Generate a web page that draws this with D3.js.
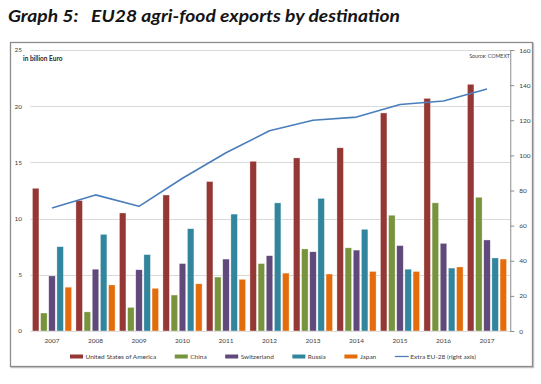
<!DOCTYPE html>
<html>
<head>
<meta charset="utf-8">
<script src="https://cdn.jsdelivr.net/npm/d3@7"></script>
<style>
  body { margin: 0; background: #fff; }
  text { font-family: Lato, "Open Sans", sans-serif; }
</style>
</head>
<body>
<div id="chart-area"></div>
<script>
// data
var years = ["2007", "2008", "2009", "2010", "2011", "2012", "2013", "2014", "2015", "2016", "2017"];
var seriesNames = ["United States of America", "China", "Switzerland", "Russia", "Japan"];
var usa         = [12.7, 11.6, 10.5, 12.1, 13.3, 15.1, 15.4, 16.3, 19.4, 20.7, 21.95];
var china       = [1.6, 1.7, 2.1, 3.2, 4.8, 6.0, 7.3, 7.4, 10.3, 11.4, 11.9];
var switzerland = [4.9, 5.5, 5.45, 6.0, 6.4, 6.7, 7.05, 7.2, 7.6, 7.8, 8.1];
var russia      = [7.5, 8.6, 6.8, 9.1, 10.4, 11.4, 11.8, 9.05, 5.5, 5.6, 6.5];
var japan       = [3.9, 4.1, 3.8, 4.2, 4.6, 5.15, 5.07, 5.3, 5.3, 5.7, 6.4];
var extraEU     = [70, 77.5, 71, 87, 101.5, 114, 120, 121.8, 129, 131, 137.8];
var leftTicks   = [0, 5, 10, 15, 20, 25];
var rightTicks  = [0, 20, 40, 60, 80, 100, 120, 140, 160];
var lineName    = "Extra EU-28 (right axis)";

var colors = ["#953735", "#77933c", "#604a7b", "#31859c", "#e46c0a"];
var lineColor = "#4a7ebb";

var seriesValues = [usa, china, switzerland, russia, japan];
var table = years.map(function(y, i) {
    return { year: y, values: seriesValues.map(function(s) { return s[i]; }), total: extraEU[i] };
});

var svgWidth = 541, svgHeight = 384;
var plot = { left: 30.25, right: 508.75, top: 50, bottom: 331 };

var svg = d3.select("#chart-area")
            .append("svg")
            .attr("width", svgWidth)
            .attr("height", svgHeight);

// title
svg.append("text")
   .attr("x", 8)
   .attr("y", 22)
   .attr("font-size", "17px")
   .attr("font-weight", "bold")
   .attr("font-style", "italic")
   .attr("fill", "#141414")
   .attr("textLength", 392)
   .attr("lengthAdjust", "spacingAndGlyphs")
   .style("white-space", "pre")
   .text("Graph 5:   EU28 agri-food exports by destination");

// frame with a little shadow
svg.append("rect")
   .attr("x", 11.5).attr("y", 43.5)
   .attr("width", 522).attr("height", 324)
   .attr("fill", "none")
   .attr("stroke", "#c8c8c8")
   .attr("stroke-width", 1.5);
svg.append("rect")
   .attr("x", 10.5).attr("y", 42.5)
   .attr("width", 522).attr("height", 324)
   .attr("fill", "#fff")
   .attr("stroke", "#8c8c8c")
   .attr("stroke-width", 1.3);

var x0 = d3.scaleBand()
           .domain(years)
           .range([plot.left, plot.right])
           .paddingInner(0.1)
           .paddingOuter(0.05);

var x1 = d3.scaleBand()
           .domain(d3.range(seriesNames.length))
           .range([0, x0.bandwidth()])
           .paddingInner(0.2);

var y = d3.scaleLinear().domain([0, 25]).range([plot.bottom, plot.top]);
var yRight = d3.scaleLinear().domain([0, 160]).range([plot.bottom, plot.top]);

// gridlines
svg.append("g")
   .selectAll("line")
   .data(leftTicks)
   .enter()
   .append("line")
   .attr("x1", plot.left)
   .attr("x2", plot.right + 1.5)
   .attr("y1", function(d) { return Math.round(y(d)) + 0.5; })
   .attr("y2", function(d) { return Math.round(y(d)) + 0.5; })
   .attr("stroke", "#d9d9d9")
   .attr("stroke-width", 1);

// left axis labels
svg.append("g")
   .selectAll("text")
   .data(leftTicks)
   .enter()
   .append("text")
   .attr("x", 22)
   .attr("y", function(d) { return y(d) + 2.3; })
   .attr("text-anchor", "end")
   .attr("font-size", "6.5px")
   .attr("fill", "#404040")
   .text(function(d) { return d; });

// right axis
var rightAxis = d3.axisRight(yRight)
                  .tickValues(rightTicks)
                  .tickSize(4)
                  .tickPadding(5);
var ra = svg.append("g")
            .attr("transform", "translate(" + (plot.right + 1.5) + ",0)")
            .call(rightAxis);
ra.select(".domain").attr("stroke", "#8c8c8c");
ra.selectAll(".tick line").attr("stroke", "#8c8c8c");
ra.selectAll(".tick text")
  .attr("font-size", "6.5px")
  .attr("font-family", "Lato, sans-serif")
  .attr("fill", "#404040");

// bars
var groups = svg.append("g")
                .selectAll("g")
                .data(table)
                .enter()
                .append("g")
                .attr("transform", function(d) { return "translate(" + x0(d.year) + ",0)"; });

groups.selectAll("rect")
      .data(function(d) { return d.values; })
      .enter()
      .append("rect")
      .attr("x", function(d, i) { return x1(i); })
      .attr("width", x1.bandwidth())
      .attr("y", function(d) { return y(d); })
      .attr("height", function(d) { return plot.bottom - y(d); })
      .attr("fill", function(d, i) { return colors[i]; })
      .attr("stroke", "#ffffff")
      .attr("stroke-opacity", 0.6)
      .attr("stroke-width", 0.6);

// line on right axis
var line = d3.line()
             .x(function(d) { return x0(d.year) + x0.bandwidth() / 2; })
             .y(function(d) { return yRight(d.total); });

svg.append("path")
   .datum(table)
   .attr("d", line)
   .attr("fill", "none")
   .attr("stroke", lineColor)
   .attr("stroke-width", 1.6)
   .attr("stroke-linejoin", "round");

// year labels
var xAxis = d3.axisBottom(x0).tickSize(0).tickPadding(7);
var xa = svg.append("g")
            .attr("transform", "translate(0," + plot.bottom + ")")
            .call(xAxis);
xa.select(".domain").remove();
xa.selectAll(".tick text")
  .attr("font-size", "6.5px")
  .attr("font-family", "Lato, sans-serif")
  .attr("fill", "#404040");

// annotations
svg.append("text")
   .attr("x", 23).attr("y", 61)
   .attr("font-size", "6.5px")
   .attr("font-weight", "bold")
   .attr("fill", "#262626")
   .text("in billion Euro");

svg.append("text")
   .attr("x", 510).attr("y", 57.5)
   .attr("text-anchor", "end")
   .attr("font-size", "5.3px")
   .attr("fill", "#404040")
   .text("Source: COMEXT");

// legend
var legendItems = seriesNames.map(function(n, i) { return { name: n, color: colors[i], type: "bar" }; });
legendItems.push({ name: lineName, color: lineColor, type: "line" });

var legend = svg.append("g");
var items = legend.selectAll("g")
                  .data(legendItems)
                  .enter()
                  .append("g");

items.append("text")
     .attr("x", 15.5)
     .attr("y", 2.3)
     .attr("font-size", "6.5px")
     .attr("fill", "#404040")
     .text(function(d) { return d.name; });

items.each(function(d) {
    var g = d3.select(this);
    if (d.type === "bar") {
        g.append("rect").attr("x", 0).attr("y", -2).attr("width", 13).attr("height", 4).attr("fill", d.color);
    } else {
        g.append("line").attr("x1", 0).attr("x2", 14).attr("y1", 0).attr("y2", 0)
         .attr("stroke", d.color).attr("stroke-width", 1.3);
    }
    d.w = 15.5 + g.select("text").node().getComputedTextLength();
});

var legendLeft = 70, legendRight = 476;
var used = d3.sum(legendItems, function(d) { return d.w; });
var gap = (legendRight - legendLeft - used) / (legendItems.length - 1);
var cx = legendLeft;
items.attr("transform", function(d) {
    var t = "translate(" + cx + ",356.5)";
    cx += d.w + gap;
    return t;
});
</script>
</body>
</html>
